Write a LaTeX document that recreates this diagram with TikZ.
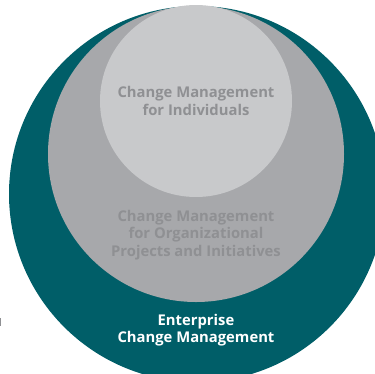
\documentclass[tikz,border=0pt]{standalone}
\usepackage{fontspec}
\setmainfont{Open Sans}
\definecolor{ecmteal}{HTML}{005E68}
\definecolor{projgray}{HTML}{A7A8AB}
\definecolor{indivgray}{HTML}{C8C9CB}
\definecolor{textgray}{HTML}{8F9093}
\begin{document}
\begin{tikzpicture}[x=1pt, y=-1pt,
  ring/.style={circle, inner sep=0pt, draw=none},
  ringtext/.style={font=\bfseries\fontsize{14.8}{17.2}\selectfont, align=center, text=textgray}
]
\useasboundingbox (0,0) rectangle (375,373);
\clip (0,0) rectangle (375,373);
\node[ring, fill=ecmteal, minimum size=376pt] (ent) at (197,194) {};
\node[ring, fill=projgray, minimum size=296pt] (proj) at (196,154) {};
\node[ring, fill=indivgray, minimum size=192pt] (indiv) at (196,101) {};
\node[ringtext] (indivtxt) at (196,101) {Change Management\\for Individuals};
\node[ringtext] (projtxt) at (196,235) {Change Management\\for Organizational\\Projects and Initiatives};
\node[ringtext, text=white] (enttxt) at (196,330) {Enterprise\\Change Management};
\draw[textgray, line width=1.2pt] (0.6,318) -- (0.6,326);
\end{tikzpicture}
\end{document}
